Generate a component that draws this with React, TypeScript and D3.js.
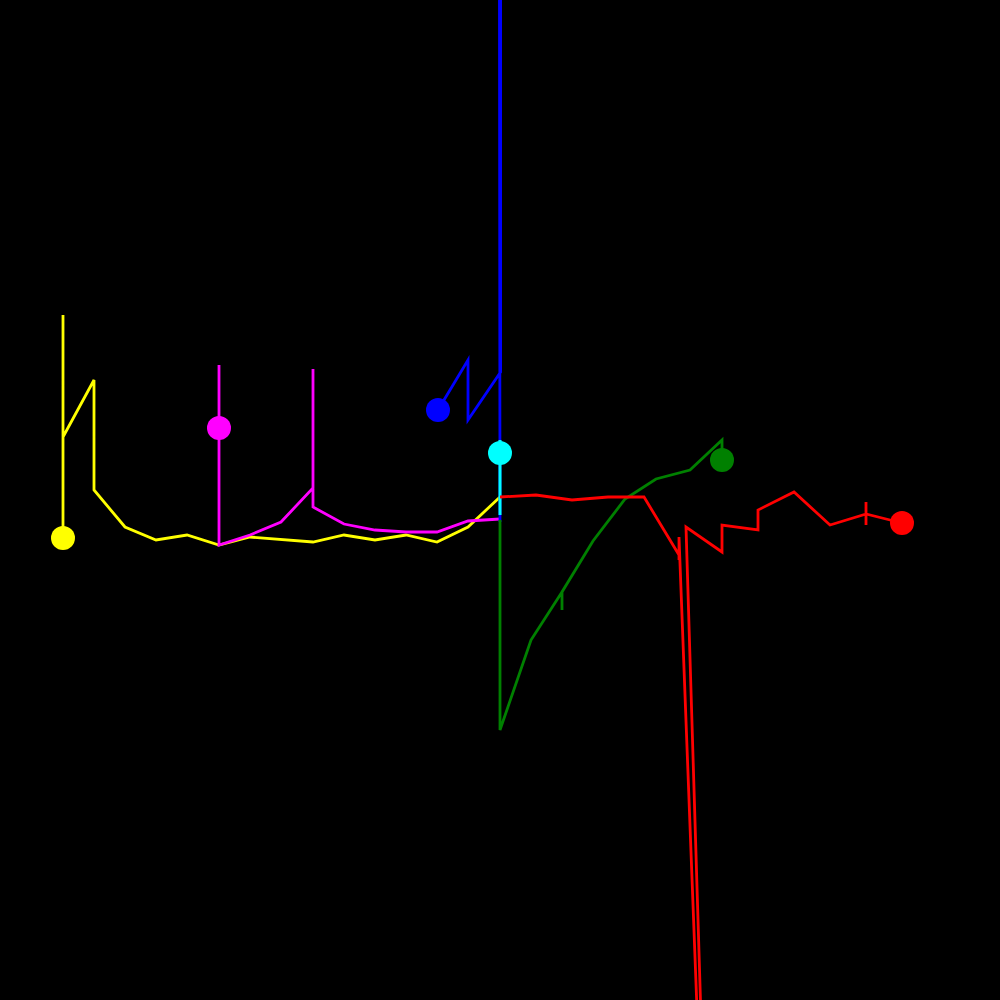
import React from "react";
import * as d3 from "d3";

// Each series: a walk of points ending at a marker dot
const yellowX = [500, 468, 437, 406, 375, 344, 313, 250, 219, 187, 156, 125, 94, 94, 63, 63, 63];
const yellowY = [497, 527, 542, 535, 540, 535, 542, 537, 545, 535, 540, 527, 490, 380, 437, 315, 538];

const magentaX = [500, 468, 437, 406, 375, 344, 313, 313, 313, 281, 250, 219, 219, 219];
const magentaY = [519, 521, 532, 532, 530, 524, 507, 369, 488, 522, 535, 545, 365, 428];

const blueX = [500, 499.4, 500.6, 500.6, 468, 468, 438];
const blueY = [522, -60, -60, 372, 420, 360, 410];

const cyanX = [500, 500, 500];
const cyanY = [515, 440, 453];

const greenX = [500, 500, 500, 531, 562, 562, 562, 593, 625, 656, 690, 722, 722];
const greenY = [660, 520, 730, 640, 592, 610, 592, 541, 499, 479, 470, 440, 460];

const redX = [500, 536, 572, 608, 644, 679, 679, 679, 716, 686, 722, 722, 758, 758, 794, 830, 866, 866, 866, 866, 902];
const redY = [497, 495, 500, 497, 497, 555, 560, 537, 1508, 527, 552, 525, 530, 510, 492, 525, 514, 502, 525, 514, 523];

const seriesNames = ["yellow", "magenta", "blue", "cyan", "green", "red"];
const seriesColors = ["#ffff00", "#ff00ff", "#0000ff", "#00ffff", "#008000", "#ff0000"];
const seriesWidths = [2.8, 2.8, 2.8, 3, 2.8, 2.8];
const seriesXs = [yellowX, magentaX, blueX, cyanX, greenX, redX];
const seriesYs = [yellowY, magentaY, blueY, cyanY, greenY, redY];

export default function App() {
  const W = 1000;
  const H = 1000;
  const x = d3.scaleLinear().domain([0, 1000]).range([0, W]);
  const y = d3.scaleLinear().domain([0, 1000]).range([0, H]);
  const line = d3
    .line<[number, number]>()
    .x((d) => x(d[0]))
    .y((d) => y(d[1]));

  const series = seriesNames.map((name, i) => {
    const pts: [number, number][] = seriesXs[i].map((v, j) => [v, seriesYs[i][j]]);
    return { name, color: seriesColors[i], width: seriesWidths[i], pts };
  });

  return (
    <svg
      width={W}
      height={H}
      style={{ position: "fixed", left: 0, top: 0, background: "#000", display: "block" }}
    >
      <rect x={0} y={0} width={W} height={H} fill="#000" />
      {series.map((s) => (
        <g key={s.name}>
          <path d={line(s.pts) || ""} fill="none" stroke={s.color} strokeWidth={s.width} strokeLinejoin="miter" />
        </g>
      ))}
      {series.map((s) => {
        const last = s.pts[s.pts.length - 1];
        return <circle key={s.name + "-dot"} cx={x(last[0])} cy={y(last[1])} r={12} fill={s.color} />;
      })}
    </svg>
  );
}
